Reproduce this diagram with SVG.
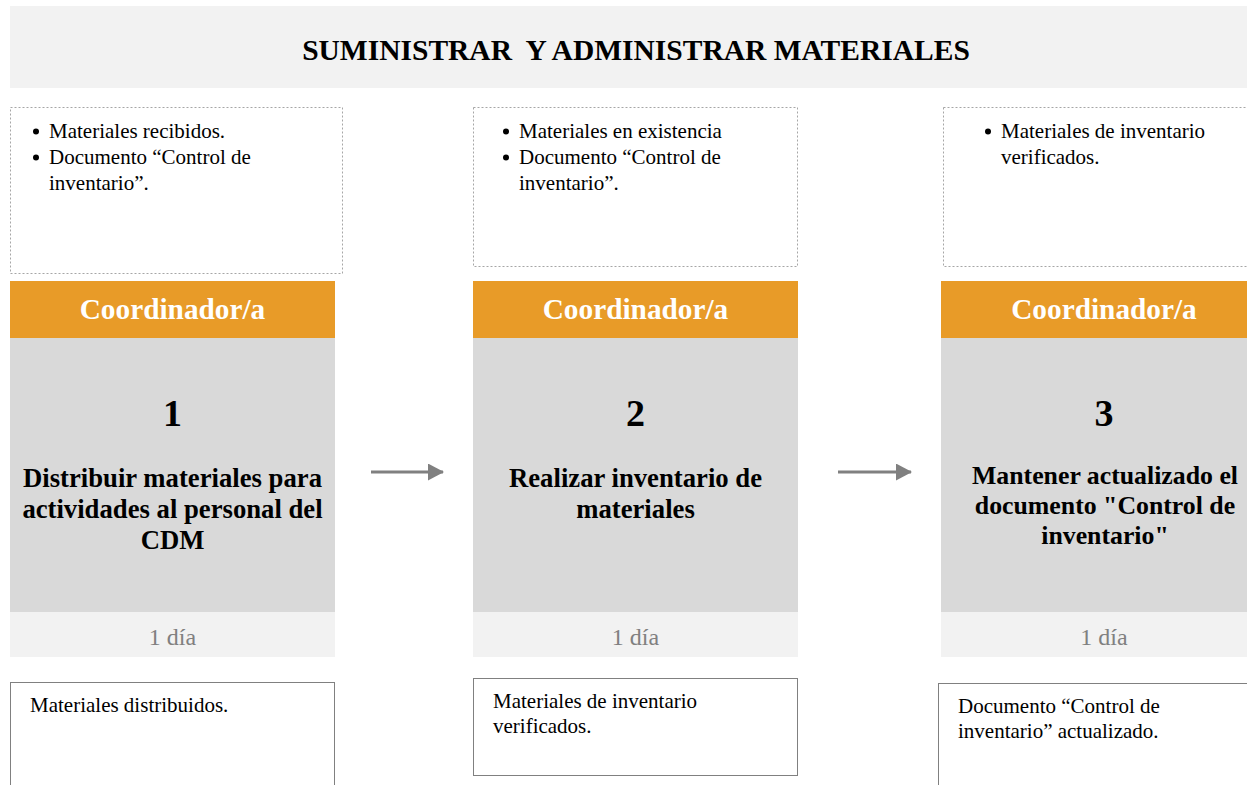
<svg xmlns="http://www.w3.org/2000/svg" width="1247" height="785" viewBox="0 0 1247 785">
<defs>
<style>
.t{font-family:"Liberation Serif","Times New Roman",serif;}
.title{font-size:29.5px;font-weight:bold;fill:#000;}
.inbox{fill:#fff;stroke:#a6a6a6;stroke-width:1;stroke-dasharray:2,2;}
.outbox{fill:#fff;stroke:#808080;stroke-width:1;}
.hdr{fill:#e89b28;}
.body{fill:#d9d9d9;}
.dur{fill:#f2f2f2;}
.role{font-size:29.3px;font-weight:bold;fill:#fff;}
.num{font-size:38px;font-weight:bold;fill:#000;}
.step{font-size:26.7px;font-weight:bold;fill:#000;}
.step3{font-size:25.8px;font-weight:bold;fill:#000;}
.days{font-size:24px;fill:#808080;}
.txt{font-size:21px;fill:#000;}
.conn{stroke:#808080;stroke-width:3;fill:none;}
</style>
<marker id="ah" viewBox="0 0 16 17" refX="15" refY="8.5" markerWidth="16" markerHeight="17" markerUnits="userSpaceOnUse" orient="auto">
<path d="M0,0 L16,8.5 L0,17 Z" fill="#808080"/>
</marker>
</defs>
<rect width="1247" height="785" fill="#fff"/>
<g id="title">
<rect x="10" y="6" width="1237" height="82" fill="#f2f2f2"/>
<text class="t title" x="636" y="60" text-anchor="middle" xml:space="preserve">SUMINISTRAR  Y ADMINISTRAR MATERIALES</text>
</g>
<g id="step1">
<rect class="inbox" x="10.5" y="107.5" width="332" height="166"/>
<circle cx="36" cy="131.5" r="3" fill="#000"/>
<circle cx="36" cy="157.5" r="3" fill="#000"/>
<text class="t txt" x="49" y="138">Materiales recibidos.</text>
<text class="t txt" x="49" y="164">Documento “Control de</text>
<text class="t txt" x="49" y="190">inventario”.</text>
<rect class="hdr" x="10" y="281" width="325" height="57"/>
<text class="t role" x="172.5" y="319" text-anchor="middle">Coordinador/a</text>
<rect class="body" x="10" y="338" width="325" height="274"/>
<text class="t num" x="172.5" y="426" text-anchor="middle">1</text>
<text class="t step" x="172.5" y="487" text-anchor="middle">Distribuir materiales para</text>
<text class="t step" x="172.5" y="518" text-anchor="middle">actividades al personal del</text>
<text class="t step" x="172.5" y="549" text-anchor="middle">CDM</text>
<rect class="dur" x="10" y="612" width="325" height="45"/>
<text class="t days" x="172.5" y="645" text-anchor="middle">1 día</text>
<rect class="outbox" x="10.5" y="682.5" width="324" height="110"/>
<text class="t txt" x="30" y="712">Materiales distribuidos.</text>
</g>
<g id="step2">
<rect class="inbox" x="473.5" y="107.5" width="324" height="159"/>
<circle cx="506" cy="131.5" r="3" fill="#000"/>
<circle cx="506" cy="157.5" r="3" fill="#000"/>
<text class="t txt" x="519" y="138">Materiales en existencia</text>
<text class="t txt" x="519" y="164">Documento “Control de</text>
<text class="t txt" x="519" y="190">inventario”.</text>
<rect class="hdr" x="473" y="281" width="325" height="57"/>
<text class="t role" x="635.5" y="319" text-anchor="middle">Coordinador/a</text>
<rect class="body" x="473" y="338" width="325" height="274"/>
<text class="t num" x="635.5" y="426" text-anchor="middle">2</text>
<text class="t step" x="635.5" y="487" text-anchor="middle">Realizar inventario de</text>
<text class="t step" x="635.5" y="518" text-anchor="middle">materiales</text>
<rect class="dur" x="473" y="612" width="325" height="45"/>
<text class="t days" x="635.5" y="645" text-anchor="middle">1 día</text>
<rect class="outbox" x="473.5" y="678.5" width="324" height="97"/>
<text class="t txt" x="493" y="708">Materiales de inventario</text>
<text class="t txt" x="493" y="733">verificados.</text>
</g>
<g id="step3">
<rect class="inbox" x="943.5" y="107.5" width="320" height="159"/>
<circle cx="988" cy="131.5" r="3" fill="#000"/>
<text class="t txt" x="1001" y="138">Materiales de inventario</text>
<text class="t txt" x="1001" y="164">verificados.</text>
<rect class="hdr" x="941" y="281" width="306" height="57"/>
<text class="t role" x="1104" y="319" text-anchor="middle">Coordinador/a</text>
<rect class="body" x="941" y="338" width="306" height="274"/>
<text class="t num" x="1104" y="426" text-anchor="middle">3</text>
<text class="t step3" x="1105" y="484" text-anchor="middle">Mantener actualizado el</text>
<text class="t step3" x="1105" y="514" text-anchor="middle">documento "Control de</text>
<text class="t step3" x="1105" y="544" text-anchor="middle">inventario"</text>
<rect class="dur" x="941" y="612" width="306" height="45"/>
<text class="t days" x="1104" y="645" text-anchor="middle">1 día</text>
<rect class="outbox" x="938.5" y="683.5" width="320" height="110"/>
<text class="t txt" x="958" y="713">Documento “Control de</text>
<text class="t txt" x="958" y="738">inventario” actualizado.</text>
</g>
<g id="connectors">
<line class="conn" x1="371" y1="472" x2="443" y2="472" marker-end="url(#ah)"/>
<line class="conn" x1="838" y1="472" x2="911" y2="472" marker-end="url(#ah)"/>
</g>
</svg>
